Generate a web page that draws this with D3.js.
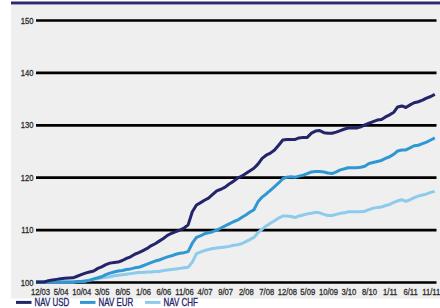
<!DOCTYPE html>
<html>
<head>
<meta charset="utf-8">
<script src="https://cdn.jsdelivr.net/npm/d3@7"></script>
<style>
  html, body { margin: 0; padding: 0; background: #fff; }
  svg { display: block; }
  text { font-family: "Liberation Sans", Arial, sans-serif; }
</style>
</head>
<body>
<svg id="chart" width="440" height="308"></svg>
<script>
// monthly NAV index, 11/03 .. 12/11 (base 100)
const navUSD = [
  100.0, 100.0, 100.0, 100.25, 100.4, 100.5, 100.6, 100.7, 100.75, 100.8,
  101.1, 101.4, 101.7, 101.9, 102.1, 102.6, 102.9, 103.3, 103.6, 103.7,
  103.8, 104.1, 104.5, 104.8, 105.3, 105.6, 106.0, 106.4, 106.9, 107.3,
  107.8, 108.3, 108.9, 109.3, 109.6, 109.9, 110.3, 110.9, 113.4, 114.7,
  115.1, 115.6, 116.0, 116.7, 117.4, 117.7, 118.1, 118.7, 119.2, 119.8,
  120.2, 120.7, 121.2, 121.7, 122.5, 123.6, 124.2, 124.6, 125.2, 126.1,
  127.1, 127.2, 127.2, 127.2, 127.5, 127.6, 127.6, 128.4, 128.8, 128.9,
  128.5, 128.4, 128.4, 128.6, 128.9, 129.2, 129.4, 129.4, 129.4, 129.6,
  130.0, 130.3, 130.6, 130.9, 131.0, 131.5, 131.9, 132.4, 133.4, 133.6,
  133.3, 133.8, 134.2, 134.4, 134.7, 135.1, 135.4, 135.8
];

const navEUR = [
  100.0, 100.0, 100.0, 100.0, 100.0, 100.0, 100.0, 100.0, 100.0, 100.0,
  100.1, 100.1, 100.2, 100.3, 100.6, 100.8, 101.0, 101.4, 101.7, 101.9,
  102.1, 102.2, 102.4, 102.5, 102.7, 102.8, 103.1, 103.4, 103.7, 104.0,
  104.2, 104.5, 104.8, 105.0, 105.3, 105.5, 105.6, 105.8, 107.4, 108.5,
  108.8, 109.2, 109.4, 109.6, 109.9, 110.3, 110.7, 111.1, 111.5, 111.8,
  112.3, 112.8, 113.3, 113.8, 115.3, 116.2, 116.8, 117.5, 118.2, 118.9,
  119.7, 120.0, 120.1, 120.0, 120.2, 120.4, 120.7, 121.0, 121.1, 121.1,
  121.0, 120.8, 120.7, 121.0, 121.4, 121.6, 121.8, 121.8, 121.8, 121.9,
  122.1, 122.6, 122.8, 123.0, 123.2, 123.6, 123.9, 124.4, 125.0, 125.2,
  125.2, 125.6, 126.0, 126.1, 126.4, 126.7, 127.1, 127.5
];

const navCHF = [
  100.0, 100.0, 100.0, 100.0, 100.0, 100.0, 100.0, 100.0, 100.0, 100.0,
  100.1, 100.1, 100.2, 100.4, 100.5, 100.6, 100.8, 100.9, 101.0, 101.2,
  101.3, 101.4, 101.5, 101.6, 101.7, 101.8, 101.8, 101.9, 101.9, 102.0,
  102.0, 102.2, 102.3, 102.4, 102.5, 102.6, 102.7, 102.8, 103.8, 105.4,
  105.7, 106.0, 106.2, 106.4, 106.5, 106.6, 106.7, 106.8, 107.0, 107.1,
  107.3, 107.7, 108.1, 108.5, 109.4, 110.1, 110.7, 111.2, 111.7, 112.2,
  112.6, 112.6, 112.5, 112.3, 112.6, 112.8, 113.0, 113.1, 113.3, 113.2,
  112.9, 112.7, 112.7, 112.9, 113.1, 113.2, 113.4, 113.4, 113.4, 113.4,
  113.5, 113.8, 114.1, 114.2, 114.3, 114.6, 114.8, 115.2, 115.5, 115.7,
  115.4, 115.7, 116.1, 116.4, 116.6, 116.8, 117.1, 117.3
];

const yTicks = [100, 110, 120, 130, 140, 150];
const xTickLabels = [
  '12/03', '5/04', '10/04', '3/05', '8/05', '1/06', '6/06', '11/06', '4/07', '9/07',
  '2/08', '7/08', '12/08', '5/09', '10/09', '3/10', '8/10', '1/11', '6/11', '11/11'
];

const seriesNames = ['NAV USD', 'NAV EUR', 'NAV CHF'];
const seriesColors = ['#23246a', '#2f98d3', '#8dcbec'];
const seriesData = [navUSD, navEUR, navCHF];

const months = navUSD.map((_, i) => new Date(2003, 10 + i, 1));
const parseTick = d3.timeParse('%m/%y');

// condensed look: squeeze the regular sans horizontally
const SQUEEZE = 0.78;

const svg = d3.select('#chart');

// panel background + top rule
svg.append('rect').attr('x', 11).attr('y', 4.5).attr('width', 429).attr('height', 294).attr('fill', '#efefef');
svg.append('rect').attr('x', 11).attr('y', 1.5).attr('width', 429).attr('height', 2.5).attr('fill', '#2a2b6c');
svg.append('rect').attr('x', 11).attr('y', 4).attr('width', 429).attr('height', 1).attr('fill', '#9c9dc8');

const x = d3.scaleTime()
  .domain([months[0], months[months.length - 1]])
  .range([36, 434.8]);

const y = d3.scaleLinear()
  .domain([100, 150])
  .range([282, 20]);

// grid lines / y axis
const yAxis = svg.append('g')
  .attr('transform', 'translate(36,0)')
  .call(d3.axisLeft(y).tickValues(yTicks).tickSize(-400.5).tickPadding(2.5).tickFormat(d3.format('d')));
yAxis.select('.domain').remove();
yAxis.selectAll('.tick line').attr('stroke', '#000').attr('stroke-width', 2.7);
yAxis.selectAll('.tick text')
  .attr('x', -2.5 / SQUEEZE)
  .attr('transform', `scale(${SQUEEZE},1)`)
  .attr('fill', '#2b2b2b')
  .attr('stroke', '#2b2b2b')
  .attr('stroke-width', 0.3)
  .style('font-size', '9.8px');

// x axis labels
const xAxis = svg.append('g')
  .attr('transform', 'translate(0,282)')
  .call(d3.axisBottom(x)
    .tickValues(xTickLabels.map(parseTick))
    .tickSize(0)
    .tickPadding(5.8)
    .tickFormat(d3.timeFormat('%-m/%y')));
xAxis.select('.domain').remove();
xAxis.selectAll('.tick text')
  .attr('transform', `scale(${SQUEEZE},1)`)
  .attr('fill', '#2b2b2b')
  .attr('stroke', '#2b2b2b')
  .attr('stroke-width', 0.3)
  .style('font-size', '9.8px');

// series lines (USD on top)
const line = d3.line()
  .x((d, i) => x(months[i]))
  .y(d => y(d));

seriesData.slice().reverse().forEach((vals, k) => {
  const idx = seriesData.length - 1 - k;
  svg.append('path')
    .datum(vals)
    .attr('d', line)
    .attr('fill', 'none')
    .attr('stroke', seriesColors[idx])
    .attr('stroke-width', 3)
    .attr('stroke-linejoin', 'round');
});

// legend
const legendX = [16, 80, 145];
const legend = svg.append('g');
seriesNames.forEach((name, i) => {
  const g = legend.append('g').attr('transform', `translate(${legendX[i]},302.4)`);
  g.append('line')
    .attr('x1', 0).attr('x2', 15.5)
    .attr('stroke', seriesColors[i])
    .attr('stroke-width', 3);
  g.append('text')
    .attr('transform', `translate(18.5,3.5) scale(${SQUEEZE},1)`)
    .attr('fill', '#23246a')
    .attr('stroke', '#23246a')
    .attr('stroke-width', 0.3)
    .style('font-size', '10.2px')
    .text(name);
});
</script>
</body>
</html>
